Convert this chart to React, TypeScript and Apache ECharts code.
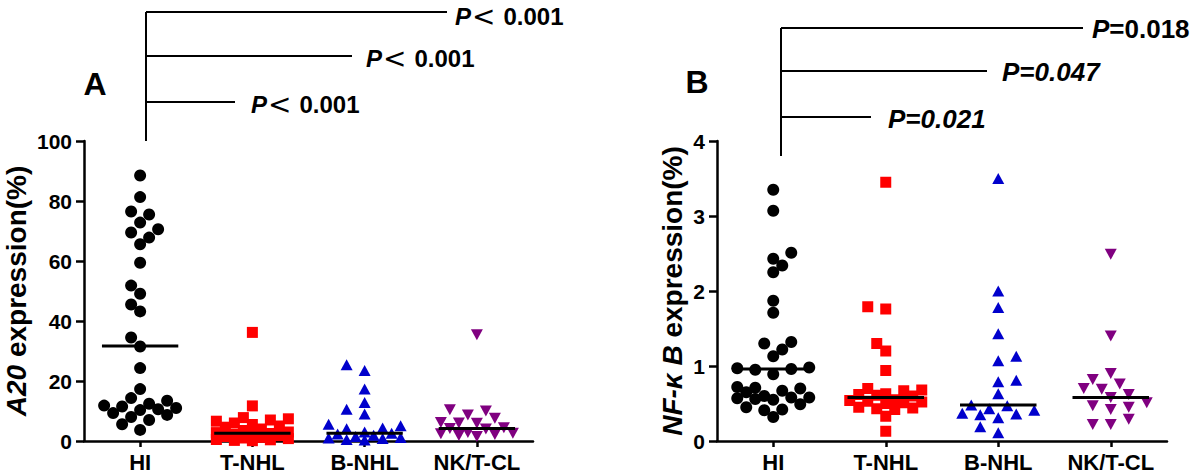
import React, { useEffect, useRef } from 'react';
import * as echarts from 'echarts';

// ---------- data ----------
const categories = ['HI', 'T-NHL', 'B-NHL', 'NK/T-CL'];

const a20HI = [88.5, 81.3, 76.5, 75.5, 72.8, 70.6, 69.5, 67.8, 65.6, 59.4, 51.8, 49.1, 45.5, 43.2, 34.5, 31.5, 24.3, 17.3, 14.3, 13.4, 12.4, 11.8, 11.5, 11.0, 10.6, 10.3, 9.3, 8.7, 8.0, 7.0, 5.6, 3.7];
const a20TNHL = [36.2, 11.7, 7.8, 7.4, 7.0, 6.6, 6.0, 5.5, 5.0, 4.6, 4.0, 3.5, 3.0, 2.8, 2.5, 2.2, 2.0, 1.8, 1.5, 1.2, 1.0, 0.8, 0.5, 0.4, 0.2, 0.1];
const a20BNHL = [25.4, 23.5, 17.3, 12.8, 10.6, 9.0, 5.6, 5.1, 4.3, 4.1, 3.0, 2.6, 2.3, 1.9, 1.5, 1.2, 1.0, 0.8, 0.5, 0.3];
const a20NKTCL = [35.4, 10.4, 10.0, 8.7, 7.6, 6.2, 6.0, 5.9, 4.4, 4.2, 4.0, 2.8, 2.6, 2.4, 2.2, 1.8, 1.5];
const a20Medians = [31.7, 2.6, 2.6, 4.2];

const nfkbHI = [3.35, 3.07, 2.51, 2.43, 2.34, 2.25, 1.87, 1.71, 1.32, 1.30, 1.22, 1.13, 0.98, 0.97, 0.96, 0.95, 0.89, 0.72, 0.71, 0.70, 0.67, 0.65, 0.60, 0.58, 0.58, 0.57, 0.56, 0.55, 0.49, 0.45, 0.42, 0.41, 0.32];
const nfkbTNHL = [3.45, 1.79, 1.76, 1.30, 1.20, 0.94, 0.70, 0.68, 0.67, 0.63, 0.62, 0.61, 0.60, 0.55, 0.54, 0.53, 0.52, 0.51, 0.50, 0.45, 0.44, 0.43, 0.42, 0.33, 0.13];
const nfkbBNHL = [3.50, 2.00, 1.78, 1.43, 1.13, 1.07, 0.81, 0.79, 0.63, 0.48, 0.47, 0.43, 0.41, 0.37, 0.36, 0.35, 0.31, 0.19, 0.11];
const nfkbNKTCL = [2.49, 1.40, 0.90, 0.82, 0.76, 0.70, 0.69, 0.62, 0.58, 0.51, 0.47, 0.45, 0.42, 0.29, 0.22, 0.22];
const nfkbMedians = [0.96, 0.58, 0.48, 0.58];

// p-values, from the lowest bracket to the highest
const pTextA = ['0.001', '0.001', '0.001'];
const pTextB = ['0.021', '0.047', '0.018'];

// ---------- styling ----------
const FONT = 'Arial, "Liberation Sans", Helvetica, sans-serif';
const SYMF = '"DejaVu Sans", sans-serif';
const colors = ['#000000', '#FF0000', '#0000CC', '#800080'];
const symbols = ['circle', 'rect', 'triangle', 'triangle'];
const symbolRotates = [0, 0, 0, 180];
const symbolSizes: any[] = [12, 11, [12, 11], [12, 11]];

const groupsA = [a20HI, a20TNHL, a20BNHL, a20NKTCL];
const groupsB = [nfkbHI, nfkbTNHL, nfkbBNHL, nfkbNKTCL];

// Prism-like scatter layout (beeswarm) computed in pixels
function swarm(values: number[], pxPerUnit: number, d: number, step: number, maxHalf: number): number[] {
  const order = values.map((_, i) => i).sort((a, b) => values[a] - values[b]);
  const placed: { x: number; y: number }[] = [];
  const out = new Array(values.length).fill(0);
  const maxK = Math.floor(maxHalf / step);
  order.forEach((i, n) => {
    const y = values[i] * pxPerUnit;
    const sgn = n % 2 === 0 ? 1 : -1;
    const cands = [0];
    for (let k = 1; k <= maxK; k++) cands.push(sgn * k * step, -sgn * k * step);
    let best = 0;
    let bestD = -1;
    for (const x of cands) {
      let md = Infinity;
      for (const p of placed) {
        const dd = Math.hypot(p.x - x, p.y - y);
        if (dd < md) md = dd;
      }
      if (md >= d) {
        best = x;
        break;
      }
      if (md > bestD) {
        bestD = md;
        best = x;
      }
    }
    placed.push({ x: best, y });
    out[i] = best;
  });
  return out;
}

function buildSeries(offA: number[][], offB: number[][]) {
  const series: any[] = [];
  const panels = [
    { key: 'A', groups: groupsA, medians: a20Medians, xi: 1, yi: 0, off: offA },
    { key: 'B', groups: groupsB, medians: nfkbMedians, xi: 3, yi: 1, off: offB },
  ];
  panels.forEach((p) => {
    p.groups.forEach((vals, g) => {
      series.push({
        id: p.key + 's' + g,
        type: 'scatter',
        xAxisIndex: p.xi,
        yAxisIndex: p.yi,
        symbol: symbols[g],
        symbolRotate: symbolRotates[g],
        symbolSize: symbolSizes[g],
        itemStyle: { color: colors[g], opacity: 1 },
        z: 3,
        silent: true,
        data: vals.map((v, k) => [g + (p.off[g] ? p.off[g][k] : 0), v]),
      });
    });
    p.medians.forEach((m, g) => {
      series.push({
        id: p.key + 'm' + g,
        type: 'line',
        xAxisIndex: p.xi,
        yAxisIndex: p.yi,
        symbol: 'none',
        lineStyle: { color: '#000', width: 3 },
        z: 5,
        silent: true,
        data: [
          [g - 0.34, m],
          [g + 0.34, m],
        ],
      });
    });
  });
  return series;
}

function catAxis(gridIndex: number) {
  return {
    type: 'category',
    gridIndex,
    data: categories,
    axisLine: { show: true, onZero: false, lineStyle: { color: '#000', width: 2.5 } },
    axisTick: { show: true, alignWithLabel: true, interval: 0, length: 6, lineStyle: { color: '#000', width: 2.5 } },
    axisLabel: { color: '#000', fontFamily: FONT, fontWeight: 'bold', fontSize: 22, margin: 10, interval: 0 },
    splitLine: { show: false },
  };
}

function valX(gridIndex: number) {
  return { type: 'value', gridIndex, min: -0.5, max: 3.5, show: false, splitLine: { show: false } };
}

function valY(gridIndex: number, max: number, interval: number, name: string, nameGap: number) {
  return {
    type: 'value',
    gridIndex,
    min: 0,
    max,
    interval,
    name,
    nameLocation: 'middle',
    nameRotate: 90,
    nameGap,
    nameTextStyle: {
      color: '#000',
      fontFamily: FONT,
      fontWeight: 'bold',
      fontSize: 28,
      rich: {
        i: { color: '#000', fontFamily: FONT, fontWeight: 'bold', fontStyle: 'italic', fontSize: 28 },
        n: { color: '#000', fontFamily: FONT, fontWeight: 'bold', fontSize: 28 },
      },
    },
    axisLine: { show: true, onZero: false, lineStyle: { color: '#000', width: 2.5 } },
    axisTick: { show: true, length: 8, lineStyle: { color: '#000', width: 2.5 } },
    axisLabel: { color: '#000', fontFamily: FONT, fontWeight: 'bold', fontSize: 21, margin: 12 },
    splitLine: { show: false },
  };
}

const richA = {
  p: { fontFamily: FONT, fontWeight: 'bold', fontStyle: 'italic', fontSize: 24, lineHeight: 24, fill: '#000' },
  lt: { fontFamily: SYMF, fontWeight: 'normal', fontSize: 28, lineHeight: 24, fill: '#000', padding: [0, 8, 0, 1] },
  n: { fontFamily: FONT, fontWeight: 'bold', fontSize: 24, lineHeight: 24, fill: '#000' },
};
const richB = {
  p: { fontFamily: FONT, fontWeight: 'bold', fontStyle: 'italic', fontSize: 26, lineHeight: 26, fill: '#000' },
  pi: { fontFamily: FONT, fontWeight: 'bold', fontStyle: 'italic', fontSize: 26, lineHeight: 26, fill: '#000' },
  n: { fontFamily: FONT, fontWeight: 'bold', fontSize: 26, lineHeight: 26, fill: '#000' },
};

function line(x1: number, y1: number, x2: number, y2: number) {
  return { type: 'line', shape: { x1, y1, x2, y2 }, style: { stroke: '#000', lineWidth: 2 }, silent: true };
}

function text(x: number, y: number, t: string, rich: any) {
  return {
    type: 'text',
    x,
    y,
    silent: true,
    style: { text: t, rich, fill: '#000', verticalAlign: 'middle', align: 'left' },
  };
}

function buildGraphics() {
  const g: any[] = [];
  // Panel A brackets
  g.push(line(146, 12, 146, 141));
  g.push(line(146, 102, 235, 102));
  g.push(line(146, 56, 352, 56));
  g.push(line(146, 12, 447, 12));
  g.push(text(251, 104, '{p|P}{lt|<}{n|' + pTextA[0] + '}', richA));
  g.push(text(366, 58, '{p|P}{lt|<}{n|' + pTextA[1] + '}', richA));
  g.push(text(455, 16, '{p|P}{lt|<}{n|' + pTextA[2] + '}', richA));
  // Panel B brackets
  g.push(line(781, 28, 781, 156));
  g.push(line(781, 117, 871, 117));
  g.push(line(781, 71, 987, 71));
  g.push(line(781, 28, 1083, 28));
  g.push(text(888, 119, '{pi|P=' + pTextB[0] + '}', richB));
  g.push(text(1002, 72, '{pi|P=' + pTextB[1] + '}', richB));
  g.push(text(1092, 29, '{p|P}{n|=' + pTextB[2] + '}', richB));
  // panel letters
  g.push({
    type: 'text',
    x: 95,
    y: 84,
    silent: true,
    style: { text: 'A', fill: '#000', font: 'bold 32px ' + FONT, align: 'center', verticalAlign: 'middle' },
  });
  g.push({
    type: 'text',
    x: 697,
    y: 82,
    silent: true,
    style: { text: 'B', fill: '#000', font: 'bold 32px ' + FONT, align: 'center', verticalAlign: 'middle' },
  });
  return g;
}

export default function App() {
  const ref = useRef<HTMLDivElement>(null);
  useEffect(() => {
    document.body.style.margin = '0';
    if (!ref.current) return;
    const chart = echarts.init(ref.current, null, { renderer: 'svg' });
    const option: any = {
      animation: false,
      backgroundColor: '#ffffff',
      grid: [
        { left: 84, top: 141, width: 449, height: 300 },
        { left: 717, top: 141, width: 450, height: 300 },
      ],
      xAxis: [catAxis(0), valX(0), catAxis(1), valX(1)],
      yAxis: [
        valY(0, 100, 20, '{i|A20}{n| expression(%)}', 54),
        valY(1, 4, 1, '{i|NF-κ B}{n| expression(%)}', 31),
      ],
      graphic: buildGraphics(),
      series: buildSeries([], []),
    };
    chart.setOption(option);

    // layout of the dots, using the chart's own scales
    const layout = (xi: number, yi: number, max: number, groups: number[][]) => {
      const y0 = chart.convertToPixel({ yAxisIndex: yi } as any, 0) as unknown as number;
      const y1 = chart.convertToPixel({ yAxisIndex: yi } as any, max) as unknown as number;
      const x0 = chart.convertToPixel({ xAxisIndex: xi } as any, 0) as unknown as number;
      const x1 = chart.convertToPixel({ xAxisIndex: xi } as any, 1) as unknown as number;
      const pxPerUnit = Math.abs(y0 - y1) / max;
      const band = Math.abs(x1 - x0);
      return groups.map((vals) => swarm(vals, pxPerUnit, 11, 9, 36).map((px) => px / band));
    };
    const offA = layout(1, 0, 100, groupsA);
    const offB = layout(3, 1, 4, groupsB);
    chart.setOption({ series: buildSeries(offA, offB) });

    return () => chart.dispose();
  }, []);
  return <div ref={ref} style={{ position: 'absolute', left: 0, top: 0, width: 1200, height: 474 }} />;
}
